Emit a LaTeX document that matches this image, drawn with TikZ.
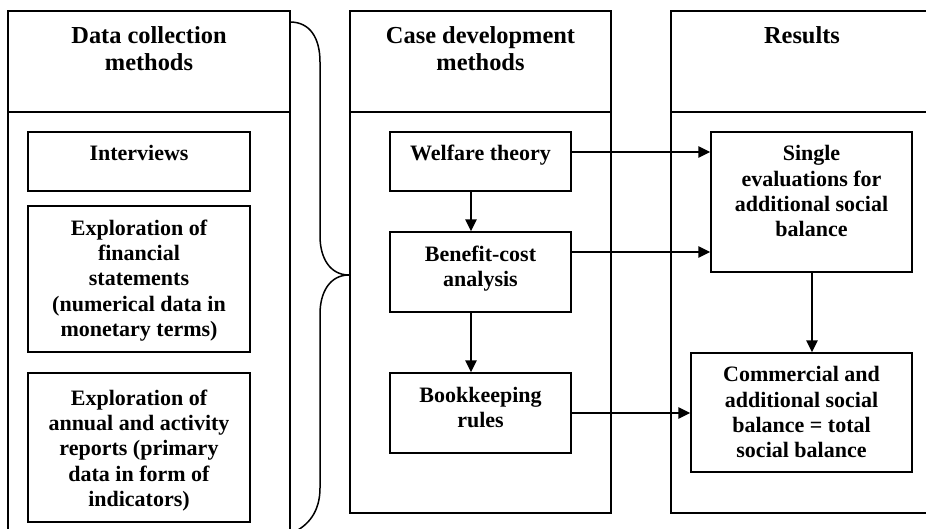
\documentclass[tikz,border=0pt]{standalone}
\usepackage{fontspec}
\setmainfont{Liberation Serif}
\usetikzlibrary{arrows.meta}
\begin{document}
\begin{tikzpicture}[x=1pt,y=-1pt,
  frame/.style={draw, line width=1.5pt},
  box/.style={draw, line width=1.5pt, inner sep=0pt},
  hdr/.style={font=\fontsize{24.4}{27}\selectfont\bfseries, align=center, inner sep=0pt, anchor=north},
  txt/.style={font=\fontsize{22}{25.3}\selectfont\bfseries, align=center, inner sep=0pt, anchor=north},
  arr/.style={-{Triangle[length=12pt,width=11.5pt]}, line width=1.5pt}]
\useasboundingbox (0,0) rectangle (926,528);
\clip (0,0) rectangle (926,528);

% column frames with their header rows
\draw[frame] (8,11) rectangle (290,560);
\draw[frame] (8,112) -- (290,112);
\draw[frame] (350,11) rectangle (611,513);
\draw[frame] (350,112) -- (611,112);
\draw[frame] (671,11) rectangle (935,513);
\draw[frame] (671,112) -- (935,112);

\node[hdr] (hdata) at (149,24.4) {\strut Data collection\\\strut methods};
\node[hdr] (hcase) at (480.5,24.4) {\strut Case development\\\strut methods};
\node[hdr] (hres) at (802,24.4) {\strut Results};

% brace grouping the data collection methods
\draw[line width=1.5pt] (290,22) .. controls (310,22) and (320,38) .. (320,62)
  -- (320,236) .. controls (320,258) and (330,275) .. (349,275)
  .. controls (330,275) and (320,292) .. (320,314)
  -- (320,488) .. controls (320,512) and (308,526) .. (292,533);

% data collection boxes
\node[box, minimum width=222pt, minimum height=59pt] (interviews) at (139,161.5) {};
\node[box, minimum width=222pt, minimum height=146pt] (financial) at (139,279) {};
\node[box, minimum width=222pt, minimum height=149pt] (annual) at (139,447.5) {};
\node[txt] (tinterviews) at (139,142.3) {\strut Interviews};
\node[txt] (tfinancial) at (139,217.3) {\strut Exploration of\\\strut financial\\\strut statements\\\strut (numerical data in\\\strut monetary terms)};
\node[txt] (tannual) at (139,387.3) {\strut Exploration of\\\strut annual and activity\\\strut reports (primary\\\strut data in form of\\\strut indicators)};

% case development boxes
\node[box, minimum width=181pt, minimum height=59pt] (welfare) at (480.5,161.5) {};
\node[box, minimum width=181pt, minimum height=80pt] (benefit) at (480.5,272) {};
\node[box, minimum width=181pt, minimum height=80pt] (book) at (480.5,413) {};
\node[txt] (twelfare) at (480.5,142.3) {\strut Welfare theory};
\node[txt] (tbenefit) at (480.5,243.3) {\strut Benefit-cost\\\strut analysis};
\node[txt] (tbook) at (480.5,384.3) {\strut Bookkeeping\\\strut rules};

% result boxes
\node[box, minimum width=201pt, minimum height=140pt] (single) at (811.5,202) {};
\node[box, minimum width=221pt, minimum height=119pt] (commercial) at (801.5,412.5) {};
\node[txt] (tsingle) at (811.5,143) {\strut Single\\\strut evaluations for\\\strut additional social\\\strut balance};
\node[txt] (tcommercial) at (801.5,364) {\strut Commercial and\\\strut additional social\\\strut balance = total\\\strut social balance};

% connectors
\draw[arr] ([xshift=-9.5pt]welfare.south) -- ([xshift=-9.5pt]welfare.south |- benefit.north);
\draw[arr] ([xshift=-9.5pt]benefit.south) -- ([xshift=-9.5pt]benefit.south |- book.north);
\draw[arr] ([yshift=9.5pt]welfare.east) -- ([yshift=9.5pt]welfare.east -| single.west);
\draw[arr] ([yshift=20pt]benefit.east) -- ([yshift=20pt]benefit.east -| single.west);
\draw[arr] (book.east) -- (book.east -| commercial.west);
\draw[arr] ([xshift=0.5pt]single.south) -- ([xshift=0.5pt]single.south |- commercial.north);
\end{tikzpicture}
\end{document}
